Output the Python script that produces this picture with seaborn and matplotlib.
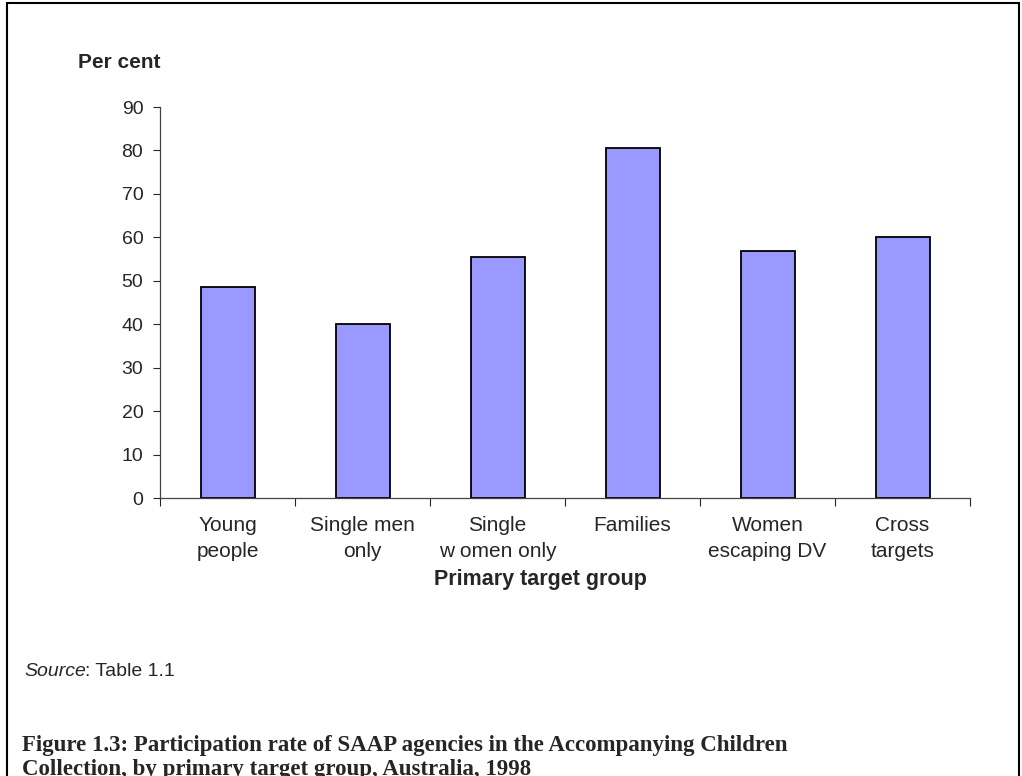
import matplotlib
matplotlib.use("Agg")
import matplotlib.pyplot as plt
import seaborn as sns
import pandas as pd
from matplotlib.patches import Rectangle
from matplotlib.ticker import FixedLocator

categories = ["Young\npeople", "Single men\nonly", "Single\nw omen only", "Families",
              "Women\nescaping DV", "Cross\ntargets"]
values = [48.5, 40.0, 55.4, 80.5, 56.8, 60.0]
y_ticks = [0, 10, 20, 30, 40, 50, 60, 70, 80, 90]

sns.set_style("white")
plt.rcParams["font.family"] = ["Liberation Sans", "DejaVu Sans"]

fig = plt.figure(figsize=(10.22, 7.76), dpi=100)
ax = fig.add_axes([160/1022, 1-498/776, 810/1022, (498-107)/776])

df = pd.DataFrame({"group": categories, "pct": values})
sns.barplot(data=df, x="group", y="pct", color="#9999FF", saturation=1,
            edgecolor="black", linewidth=1.3, width=0.4, ax=ax)

ax.set_xlim(-0.5, 5.5)
ax.set_ylim(0, 90)
ax.set_yticks(y_ticks)
ax.tick_params(axis="y", direction="out", length=5, width=0.8, labelsize=14, left=True, pad=7)
ax.tick_params(axis="x", which="major", length=0, labelsize=15, pad=13)
ax.xaxis.set_minor_locator(FixedLocator([-0.5 + i for i in range(7)]))
ax.tick_params(axis="x", which="minor", direction="out", length=6, width=0.8, bottom=True)
for lbl in ax.get_xticklabels():
    lbl.set_linespacing(1.45)
for s in ["top", "right"]:
    ax.spines[s].set_visible(False)
for s in ["left", "bottom"]:
    ax.spines[s].set_color("#444444")
    ax.spines[s].set_linewidth(0.9)
ax.set_xlabel("")
ax.set_ylabel("")

fig.text(119/1022, 1-62/776, "Per cent", ha="center", va="center", fontsize=15, fontweight="bold")
fig.text(540/1022, 1-579/776, "Primary target group", ha="center", va="center", fontsize=15.5, fontweight="bold")

t1 = fig.text(24/1022, 1-672/776, "Source", ha="left", va="center", fontsize=14, style="italic")
fig.canvas.draw()
bb = t1.get_window_extent(renderer=fig.canvas.get_renderer())
fig.text((bb.x1 - 1)/1022, 1-672/776, ": Table 1.1", ha="left", va="center", fontsize=14)

fig.text(22/1022, 1-745/776, "Figure 1.3: Participation rate of SAAP agencies in the Accompanying Children",
         ha="left", va="center", fontsize=16.5, fontweight="bold", family="Liberation Serif")
fig.text(22/1022, 1-769/776, "Collection, by primary target group, Australia, 1998",
         ha="left", va="center", fontsize=16.5, fontweight="bold", family="Liberation Serif")

fig.patches.append(Rectangle((7/1022, -0.1), 1012/1022, 1.1 - 3/776, transform=fig.transFigure,
                             fill=False, edgecolor="black", linewidth=1.5, clip_on=False))

fig.savefig("out.png", dpi=100)
